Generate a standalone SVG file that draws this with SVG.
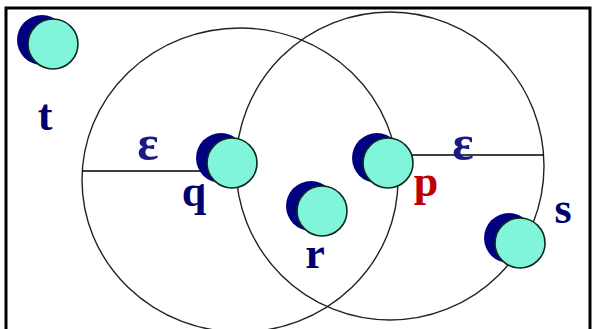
<svg xmlns="http://www.w3.org/2000/svg" width="594" height="329" viewBox="0 0 594 329">
<style>
.ring{fill:none;stroke:#222;stroke-width:1.4}
.rad{stroke:#000;stroke-width:1.6}
.sh{fill:#000080}
.bd{fill:#80F5DA;stroke:#0b2a20;stroke-width:1.6}
.lb{font-family:"Liberation Serif","Times New Roman",serif;font-weight:bold;font-size:44px;fill:#000070;text-anchor:middle}
.eps{font-size:50px;fill:#1a1a80}
.red{fill:#c00000}
</style>
<rect x="0" y="0" width="594" height="329" fill="#fff"/>
<rect x="6" y="8" width="584" height="340" fill="none" stroke="#000" stroke-width="3"/>
<g id="connectors">
<ellipse class="ring" cx="240" cy="180" rx="158" ry="152"/>
<circle class="ring" cx="390" cy="166" r="154"/>
<line class="rad" x1="82" y1="171" x2="212" y2="171"/>
<line class="rad" x1="412" y1="155" x2="544" y2="155"/>
<text class="lb eps" x="148" y="160">ε</text>
<text class="lb eps" x="463" y="160">ε</text>
</g>
<g id="t"><circle class="sh" cx="42" cy="40" r="25"/><circle class="bd" cx="53" cy="44" r="25"/><text class="lb" x="45" y="130">t</text></g>
<g id="q"><circle class="sh" cx="221" cy="158" r="25"/><circle class="bd" cx="232" cy="163" r="25"/><text class="lb" x="194" y="206">q</text></g>
<g id="p"><circle class="sh" cx="377" cy="158" r="25"/><circle class="bd" cx="388" cy="163" r="25"/><text class="lb red" x="426" y="196">p</text></g>
<g id="r"><circle class="sh" cx="311" cy="206" r="25"/><circle class="bd" cx="322" cy="211" r="25"/><text class="lb" x="315" y="268">r</text></g>
<g id="s"><circle class="sh" cx="509" cy="238" r="25"/><circle class="bd" cx="520" cy="243" r="25"/><text class="lb" x="563" y="223">s</text></g>
</svg>
